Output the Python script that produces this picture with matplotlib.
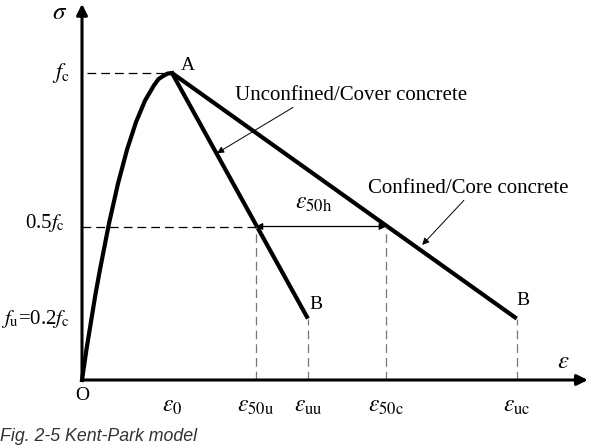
import matplotlib.pyplot as plt

# 基本参数 (以 eps0 = 1, fc = 1 归一化, 从图上读取)
eps_asc = [0, 0.05, 0.1, 0.15, 0.2, 0.3, 0.4, 0.5, 0.6, 0.7, 0.8, 0.85, 0.9, 0.95, 1.0]
sig_asc = [0, 0.10, 0.19, 0.28, 0.36, 0.51, 0.64, 0.75, 0.84, 0.91, 0.96, 0.98, 0.99, 0.998, 1.0]

eps0 = 1.0
eps50u = 1.93
epsuu = 2.51
eps50c = 3.38
epsuc = 4.83
fc = 1.0
f50 = 0.5
fu = 0.2

tick_pos = [eps0, eps50u, epsuu, eps50c, epsuc]
tick_lab = [r'$\varepsilon_{\mathrm{0}}$', r'$\varepsilon_{\mathrm{50u}}$', r'$\varepsilon_{\mathrm{uu}}$',
            r'$\varepsilon_{\mathrm{50c}}$', r'$\varepsilon_{\mathrm{uc}}$']

plt.rcParams['font.family'] = ['Liberation Serif', 'DejaVu Serif']
plt.rcParams['mathtext.fontset'] = 'stix'

fig = plt.figure(figsize=(5.97, 4.48), dpi=100)
ax = fig.add_axes([0, 0, 1, 1])
ax.set_xlim(-82 / 90, (597 - 82) / 90)
ax.set_ylim(-68 / 307, 380 / 307)
ax.axis('off')

# 坐标轴
ax.annotate('', xy=(5.62, 0), xytext=(0, 0),
            arrowprops=dict(arrowstyle='-|>', lw=2.2, color='k', mutation_scale=16, shrinkA=0, shrinkB=0))
ax.annotate('', xy=(0, 1.225), xytext=(0, 0),
            arrowprops=dict(arrowstyle='-|>', lw=2.2, color='k', mutation_scale=16, shrinkA=0, shrinkB=0))

# 曲线
ax.plot(eps_asc, sig_asc, color='k', lw=3, solid_joinstyle='round')
ax.plot([eps0, epsuu], [fc, fu], color='k', lw=3, solid_capstyle='butt')
ax.plot([eps0, epsuc], [fc, fu], color='k', lw=3, solid_capstyle='butt')

# 虚线
ax.plot([0.06, eps0], [fc, fc], color='k', lw=0.9, dashes=(7, 4))
ax.plot([0, eps50u], [f50, f50], color='k', lw=0.9, dashes=(7, 4))
for x, y in [(eps50u, f50), (eps50c, f50), (epsuu, fu), (epsuc, fu)]:
    ax.plot([x, x], [0, y], color='#777777', lw=0.9, dashes=(7, 4))

ax.annotate('', xy=(eps50c, f50), xytext=(eps50u, f50),
            arrowprops=dict(arrowstyle='<|-|>', lw=0.9, color='k', mutation_scale=10, shrinkA=0, shrinkB=0))

# 文字
for x, lab in zip(tick_pos, tick_lab):
    ax.text(x, -0.085, lab, ha='center', va='center', fontsize=17)
ax.text(0, -0.05, 'O', ha='center', va='center', fontsize=14)
ax.text(5.35, 0.06, r'$\varepsilon$', ha='center', va='center', fontsize=18)
ax.text(-0.245, 1.195, r'$\sigma$', ha='center', va='center', fontsize=18)
ax.text(-0.23, fc, r'$f_{\mathrm{c}}$', ha='center', va='center', fontsize=16)
ax.text(-0.19, f50 + 0.01, r'0.5$f_{\mathrm{c}}$', ha='right', va='center', fontsize=15)
ax.text(-0.895, fu, r'$f_{\mathrm{u}}$=0.2$f_{\mathrm{c}}$', ha='left', va='center', fontsize=15)
ax.text(eps0 + 0.1, fc + 0.025, 'A', ha='left', va='center', fontsize=14)
ax.text(epsuu + 0.02, fu + 0.045, 'B', ha='left', va='center', fontsize=14)
ax.text(epsuc + 0.0, fu + 0.06, 'B', ha='left', va='center', fontsize=14)
ax.text((eps50u + eps50c) / 2 - 0.08, f50 + 0.075, r'$\varepsilon_{\mathrm{50h}}$', ha='center', va='center', fontsize=17)

ax.annotate('Unconfined/Cover concrete', xy=(1.50, 0.739), xytext=(1.70, 0.928),
            fontsize=15, ha='left', va='center',
            arrowprops=dict(arrowstyle='-|>', lw=0.7, color='k', mutation_scale=10, shrinkA=0, shrinkB=0,
                            relpos=(0.27, 0)))
ax.annotate('Confined/Core concrete', xy=(3.78, 0.44), xytext=(3.18, 0.625),
            fontsize=15, ha='left', va='center',
            arrowprops=dict(arrowstyle='-|>', lw=0.7, color='k', mutation_scale=10, shrinkA=0, shrinkB=0,
                            relpos=(0.49, 0)))

fig.text(0.0, 1 - 436 / 448, 'Fig. 2-5 Kent-Park model', family='Liberation Sans', style='italic',
         fontsize=12.8, color='#333333', ha='left', va='center')

plt.savefig('out.png')
